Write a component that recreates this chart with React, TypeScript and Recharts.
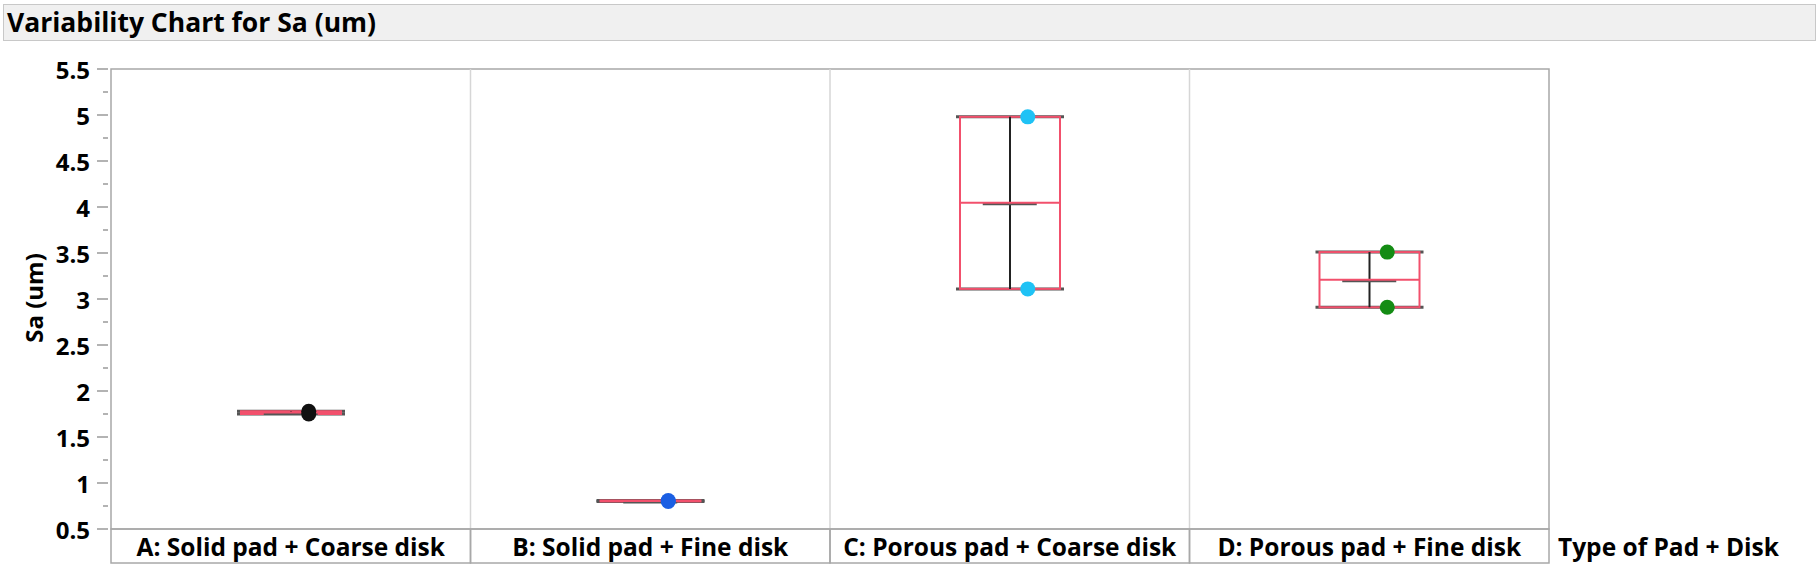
import { ComposedChart, Bar, Scatter, XAxis, YAxis, ReferenceArea, ReferenceLine } from "recharts";

// categories (pad + disk combination)
const categories = [
  "A: Solid pad + Coarse disk",
  "B: Solid pad + Fine disk",
  "C: Porous pad + Coarse disk",
  "D: Porous pad + Fine disk",
];

// the two Sa readings per cell (high / low) and the cell mean
const highValues = [1.78, 0.81, 4.98, 3.51];
const lowValues = [1.75, 0.8, 3.11, 2.91];
const meanValues = [1.765, 0.805, 4.045, 3.21];

const pointColors = ["#111111", "#1b5fe3", "#1fc2f5", "#148c14"];

const yTicks = [
  0.5, 0.75, 1, 1.25, 1.5, 1.75, 2, 2.25, 2.5, 2.75, 3, 3.25, 3.5, 3.75, 4, 4.25, 4.5, 4.75, 5,
  5.25, 5.5,
];
const yLabels = ["0.5", "1", "1.5", "2", "2.5", "3", "3.5", "4", "4.5", "5", "5.5"];

const data = categories.map((name, i) => ({
  name,
  range: [lowValues[i], highValues[i]],
  high: highValues[i],
  low: lowValues[i],
  mean: meanValues[i],
  color: pointColors[i],
}));

const FONT = "'Open Sans', sans-serif";
const CELL_W = (1820 - 111 - 271) / 4;
const RED = "#f2506c";

const ValueTick = (props: any) => {
  const { x, y, payload } = props;
  const v = payload.value;
  const major = Math.abs(v * 2 - Math.round(v * 2)) < 1e-6;
  const label = yLabels.find((l) => Math.abs(parseFloat(l) - v) < 1e-6);
  return (
    <g>
      <line x1={x - (major ? 14 : 8)} x2={x - 3} y1={y} y2={y} stroke="#9a9a9a" strokeWidth={1.5} />
      {major && label && (
        <text x={x - 21} y={y} textAnchor="end" dominantBaseline="central" fontFamily={FONT} fontWeight={700} fontSize={24} fill="#000">
          {label}
        </text>
      )}
    </g>
  );
};

const CategoryTick = (props: any) => {
  const { x, y, payload } = props;
  return (
    <g>
      <rect x={x - CELL_W / 2} y={y} width={CELL_W} height={34} fill="none" stroke="#a8a8a8" strokeWidth={1.5} />
      <text x={x} y={y + 17} textAnchor="middle" dominantBaseline="central" fontFamily={FONT} fontWeight={700} fontSize={24.5} fill="#000">
        {payload.value}
      </text>
    </g>
  );
};

const BoxShape = (props: any) => {
  const { x, y, width, height } = props;
  const cx = x + width / 2;
  return (
    <g>
      <line x1={x - 4} x2={x + width + 4} y1={y} y2={y} stroke="#555" strokeWidth={3} />
      <line x1={x - 4} x2={x + width + 4} y1={y + height} y2={y + height} stroke="#555" strokeWidth={3} />
      <rect x={x} y={y} width={width} height={height} fill="none" stroke={RED} strokeWidth={2} />
      <line x1={cx} x2={cx} y1={y} y2={y + height} stroke="#222" strokeWidth={2} />
    </g>
  );
};

const MeanShape = (props: any) => {
  const { cx, cy } = props;
  return (
    <g>
      <line x1={cx - 27} x2={cx + 27} y1={cy + 1.2} y2={cy + 1.2} stroke="#555" strokeWidth={2.5} />
      <line x1={cx - 50} x2={cx + 50} y1={cy} y2={cy} stroke={RED} strokeWidth={2} />
    </g>
  );
};

const DotShape = (props: any) => {
  const { cx, cy, payload } = props;
  return <circle cx={cx + 18} cy={cy} r={7.5} fill={payload.color} />;
};

export default function App() {
  return (
    <div style={{ position: "absolute", left: 0, top: 0, width: 1820, height: 567, background: "#fff" }}>
      <div
        style={{
          position: "absolute",
          left: 3,
          top: 4,
          width: 1813,
          height: 37,
          boxSizing: "border-box",
          background: "#f0f0f0",
          border: "1.5px solid #c8c8c8",
          fontFamily: FONT,
          fontWeight: 700,
          fontSize: 26.5,
          lineHeight: "34px",
          paddingLeft: 3,
          color: "#000",
          whiteSpace: "nowrap",
        }}
      >
        Variability Chart for Sa (um)
      </div>
      <ComposedChart width={1820} height={567} data={data} margin={{ top: 69, right: 271, bottom: 0, left: 0 }}>
        <XAxis
          dataKey="name"
          height={38}
          axisLine={false}
          tickLine={false}
          tickSize={0}
          tickMargin={0}
          interval={0}
          tick={<CategoryTick />}
          label={{
            content: (p: any) => {
              const vb = p.viewBox || { x: 111, y: 529, width: 1438 };
              return (
                <text x={vb.x + vb.width + 9} y={vb.y + 17} dominantBaseline="central" fontFamily={FONT} fontWeight={700} fontSize={24.5} fill="#000">
                  Type of Pad + Disk
                </text>
              );
            },
          }}
        />
        <YAxis
          type="number"
          domain={[0.5, 5.5]}
          ticks={yTicks}
          interval={0}
          width={111}
          axisLine={false}
          tickLine={false}
          tickSize={0}
          tickMargin={0}
          allowDataOverflow
          tick={<ValueTick />}
          label={{
            content: () => (
              <text x={33} y={298} transform="rotate(-90 33 298)" textAnchor="middle" dominantBaseline="central" fontFamily={FONT} fontWeight={700} fontSize={24} fill="#000">
                Sa (um)
              </text>
            ),
          }}
        />
        <ReferenceLine x={categories[1]} position="start" stroke="#d6d6d6" strokeWidth={1.5} />
        <ReferenceLine x={categories[2]} position="start" stroke="#d6d6d6" strokeWidth={1.5} />
        <ReferenceLine x={categories[3]} position="start" stroke="#d6d6d6" strokeWidth={1.5} />
        <ReferenceArea y1={0.5} y2={5.5} fill="none" stroke="#a8a8a8" strokeWidth={1.5} ifOverflow="visible" />
        <Bar dataKey="range" barSize={100} shape={<BoxShape />} isAnimationActive={false} />
        <Scatter dataKey="mean" shape={<MeanShape />} isAnimationActive={false} />
        <Scatter dataKey="high" shape={<DotShape />} isAnimationActive={false} />
        <Scatter dataKey="low" shape={<DotShape />} isAnimationActive={false} />
      </ComposedChart>
    </div>
  );
}
